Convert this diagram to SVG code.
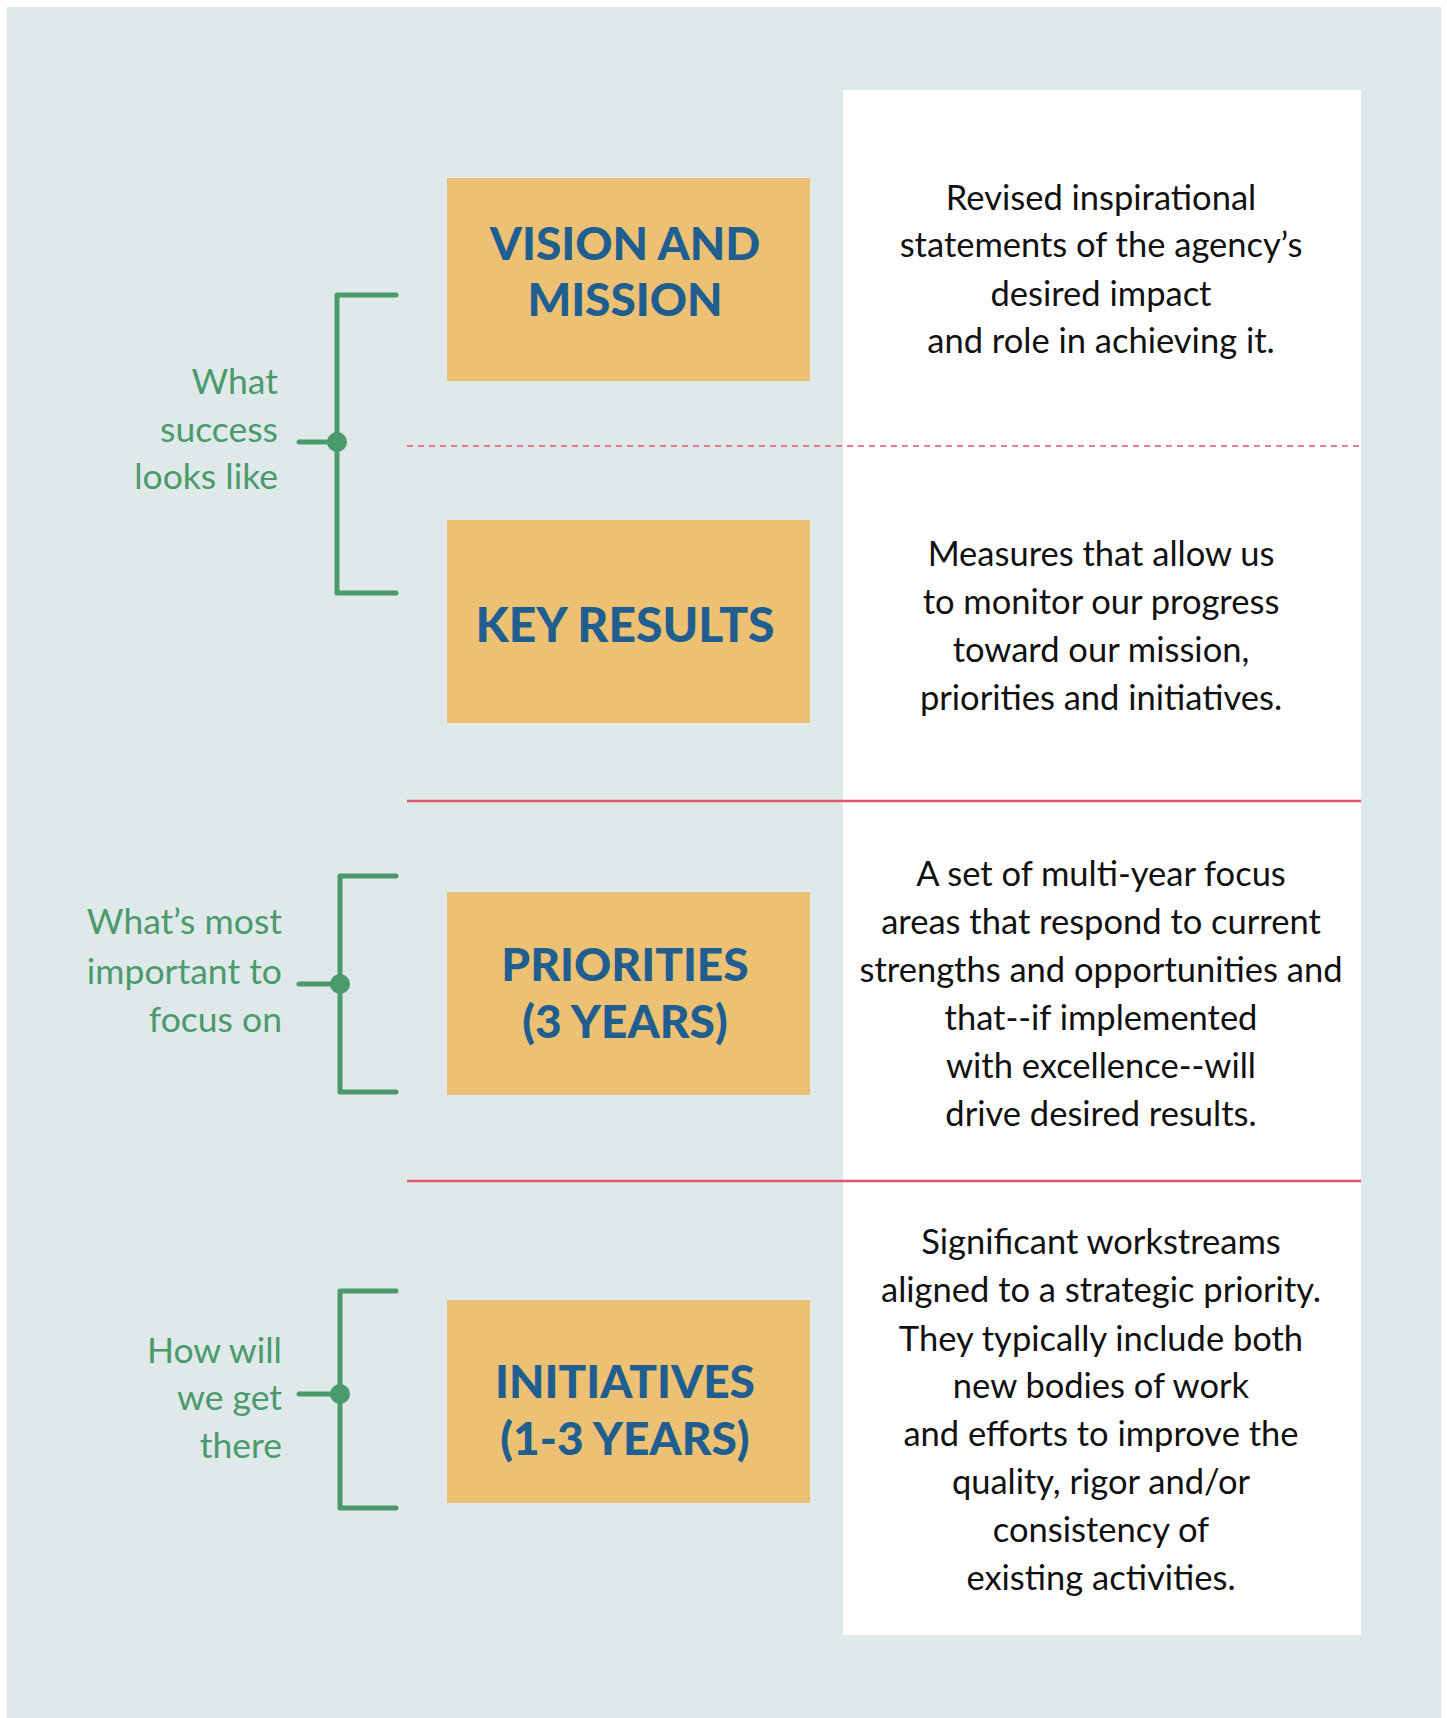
<svg xmlns="http://www.w3.org/2000/svg" width="1447" height="1718" viewBox="0 0 1447 1718">
<style>
.box{fill:#ecc173}
.title{font-family:Lato,"Liberation Sans",sans-serif;font-weight:900;font-size:46px;fill:#1f5e8e;text-anchor:middle}
.desc{font-family:Lato,"Liberation Sans",sans-serif;font-size:34.5px;fill:#111;text-anchor:middle}
.lbl{font-family:Lato,"Liberation Sans",sans-serif;font-size:35.5px;fill:#4a9a6c;text-anchor:end}
.br{fill:none;stroke:#4a9a6c;stroke-width:5;stroke-linecap:round;stroke-linejoin:round}
.dot{fill:#4a9a6c}
.sep{stroke:#e4566e;stroke-width:2.5}
.dash{stroke:#e4566e;stroke-width:1.5;stroke-dasharray:6 5}
</style>
<rect x="0" y="0" width="1447" height="1718" fill="#ffffff"/>
<rect x="7" y="7" width="1434" height="1711" fill="#e0e9ea"/>
<rect x="843" y="90" width="518" height="1545" fill="#ffffff"/>
<g id="connectors">
<line class="dash" x1="407" y1="446" x2="1361" y2="446"/>
<line class="sep" x1="407" y1="801" x2="1361" y2="801"/>
<line class="sep" x1="407" y1="1181" x2="1361" y2="1181"/>
<path class="br" d="M396 295 H337 V593 H396 M299 442 H337"/>
<circle class="dot" cx="337" cy="442" r="10"/>
<path class="br" d="M396 876 H340 V1092 H396 M299 984 H340"/>
<circle class="dot" cx="340" cy="984" r="10"/>
<path class="br" d="M396 1291 H340 V1508 H396 M299 1394 H340"/>
<circle class="dot" cx="340" cy="1394" r="10"/>
</g>
<g id="label-success">
<text class="lbl" x="278" y="394">What</text>
<text class="lbl" x="278" y="442">success</text>
<text class="lbl" x="278" y="489">looks like</text>
</g>
<g id="label-important">
<text class="lbl" x="282" y="934">What’s most</text>
<text class="lbl" x="282" y="984">important to</text>
<text class="lbl" x="282" y="1032">focus on</text>
</g>
<g id="label-how">
<text class="lbl" x="282" y="1363">How will</text>
<text class="lbl" x="282" y="1410">we get</text>
<text class="lbl" x="282" y="1458">there</text>
</g>
<g id="node-vision">
<rect class="box" x="447" y="178" width="363" height="203"/>
<text class="title" x="625" y="260">VISION AND</text>
<text class="title" x="625" y="316">MISSION</text>
</g>
<g id="node-keyresults">
<rect class="box" x="447" y="520" width="363" height="203"/>
<text class="title" x="625" y="642" style="font-size:48px">KEY RESULTS</text>
</g>
<g id="node-priorities">
<rect class="box" x="447" y="892" width="363" height="203"/>
<text class="title" x="625" y="981">PRIORITIES</text>
<text class="title" x="625" y="1038">(3 YEARS)</text>
</g>
<g id="node-initiatives">
<rect class="box" x="447" y="1300" width="363" height="203"/>
<text class="title" x="625" y="1398">INITIATIVES</text>
<text class="title" x="625" y="1455">(1-3 YEARS)</text>
</g>
<g id="desc-vision">
<text class="desc" x="1101" y="210">Revised inspirational</text>
<text class="desc" x="1101" y="257">statements of the agency’s</text>
<text class="desc" x="1101" y="306">desired impact</text>
<text class="desc" x="1101" y="353">and role in achieving it.</text>
</g>
<g id="desc-keyresults">
<text class="desc" x="1101" y="566">Measures that allow us</text>
<text class="desc" x="1101" y="614">to monitor our progress</text>
<text class="desc" x="1101" y="662">toward our mission,</text>
<text class="desc" x="1101" y="710">priorities and initiatives.</text>
</g>
<g id="desc-priorities">
<text class="desc" x="1101" y="886">A set of multi-year focus</text>
<text class="desc" x="1101" y="934">areas that respond to current</text>
<text class="desc" x="1101" y="982">strengths and opportunities and</text>
<text class="desc" x="1101" y="1030">that--if implemented</text>
<text class="desc" x="1101" y="1078">with excellence--will</text>
<text class="desc" x="1101" y="1126">drive desired results.</text>
</g>
<g id="desc-initiatives">
<text class="desc" x="1101" y="1254">Significant workstreams</text>
<text class="desc" x="1101" y="1302">aligned to a strategic priority.</text>
<text class="desc" x="1101" y="1351">They typically include both</text>
<text class="desc" x="1101" y="1398">new bodies of work</text>
<text class="desc" x="1101" y="1446">and efforts to improve the</text>
<text class="desc" x="1101" y="1494">quality, rigor and/or</text>
<text class="desc" x="1101" y="1542">consistency of</text>
<text class="desc" x="1101" y="1590">existing activities.</text>
</g>
</svg>
